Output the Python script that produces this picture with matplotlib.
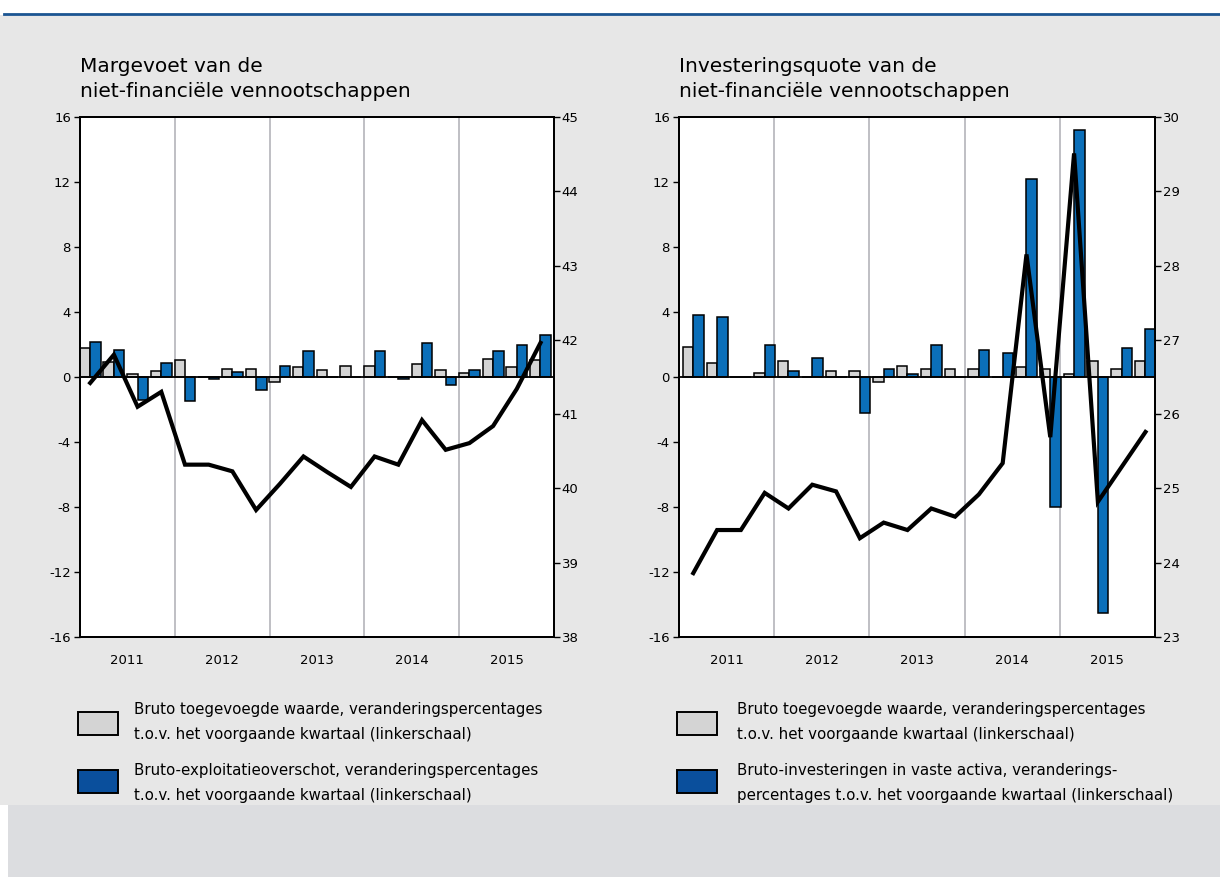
import matplotlib
matplotlib.use("Agg")
import matplotlib.pyplot as plt
from matplotlib.patches import Rectangle
from matplotlib.lines import Line2D

plt.rcParams['font.family'] = ['DejaVu Sans']
plt.rcParams['axes.unicode_minus'] = False

# ---------------------------------------------------------------- data
years = ['2011', '2012', '2013', '2014', '2015']

# Left panel: quarterly changes (%) and the margin rate (right scale)
bwt_marge = [1.79, 0.9, 0.2, 0.35, 1.03, 0.0, 0.5, 0.5, -0.33, 0.62,
             0.45, 0.66, 0.66, 0.0, 0.82, 0.41, 0.27, 1.13, 0.62, 1.07]
bruto_expl = [2.15, 1.65, -1.4, 0.86, -1.46, -0.15, 0.3, -0.82, 0.66, 1.63,
              0.0, 0.0, 1.62, -0.12, 2.12, -0.5, 0.45, 1.62, 1.97, 2.6]
margevoet = [41.42, 41.80, 41.10, 41.30, 40.32, 40.32, 40.23, 39.71, 40.06, 40.43,
             40.22, 40.02, 40.43, 40.32, 40.92, 40.52, 40.61, 40.84, 41.34, 41.96]

# Right panel: quarterly changes (%) and the investment rate (right scale)
bwt_inv = [1.85, 0.86, 0.0, 0.25, 1.0, 0.0, 0.35, 0.37, -0.3, 0.68,
           0.51, 0.47, 0.51, 0.0, 0.6, 0.47, 0.2, 1.0, 0.5, 1.0]
bruto_inv = [3.84, 3.7, 0.0, 2.0, 0.37, 1.2, 0.0, -2.2, 0.5, 0.2,
             1.97, 0.0, 1.66, 1.5, 12.2, -8.0, 15.2, -14.5, 1.8, 2.97]
inv_quote = [23.86, 24.44, 24.44, 24.94, 24.73, 25.05, 24.96, 24.33, 24.54, 24.44,
             24.73, 24.62, 24.92, 25.34, 28.15, 25.69, 29.51, 24.82, 25.29, 25.76]

titles = ['Margevoet van de\nniet-financiële vennootschappen',
          'Investeringsquote van de\nniet-financiële vennootschappen']
labels_left = ['Bruto toegevoegde waarde, veranderingspercentages\nt.o.v. het voorgaande kwartaal (linkerschaal)',
               'Bruto-exploitatieoverschot, veranderingspercentages\nt.o.v. het voorgaande kwartaal (linkerschaal)']
labels_right = ['Bruto toegevoegde waarde, veranderingspercentages\nt.o.v. het voorgaande kwartaal (linkerschaal)',
                'Bruto-investeringen in vaste activa, veranderings-\npercentages t.o.v. het voorgaande kwartaal (linkerschaal)']

# ---------------------------------------------------------------- style
W, H = 1220, 877
GREY_BAR = '#d4d4d4'
BLUE_BAR = '#0b6fb9'
BLUE_LEG = '#0a4f9c'
BG = '#e7e7e7'
GRID = '#b4b4ba'


def fx(x):
    return x / W


def fy(y):
    return 1 - y / H


fig = plt.figure(figsize=(W / 100, H / 100), dpi=100)
fig.patch.set_facecolor('white')

# page background
fig.add_artist(Rectangle((0, fy(805)), 1, fy(15) - fy(805), transform=fig.transFigure,
                         facecolor=BG, edgecolor='none', zorder=-10))
fig.add_artist(Rectangle((fx(8), 0), 1, fy(805), transform=fig.transFigure,
                         facecolor='#dcdde0', edgecolor='none', zorder=-10))
fig.add_artist(Line2D([fx(4), 1], [fy(14), fy(14)], transform=fig.transFigure,
                      color='#1b5592', lw=2.0, zorder=-5))


def panel(left_px, right_px, offset, grey, blue, line, rlim, title, labels, text_x):
    ax = fig.add_axes([fx(left_px), fy(637), fx(right_px) - fx(left_px), fy(117) - fy(637)])
    ax.set_facecolor('white')
    n = len(grey)
    xs = [i + offset for i in range(n)]
    bw = 0.44
    ax.bar(xs, grey, width=-bw, align='edge', color=GREY_BAR, edgecolor='black',
           linewidth=1.1, zorder=3)
    ax.bar(xs, blue, width=bw, align='edge', color=BLUE_BAR, edgecolor='black',
           linewidth=1.1, zorder=3)
    ax.axhline(0, color='black', lw=1.3, zorder=4)
    for k in range(1, len(years)):
        ax.axvline(4 * k, color=GRID, lw=1.2, zorder=1)
    ax.set_xlim(0, 4 * len(years))
    ax.set_ylim(-16, 16)
    ax.set_yticks(range(-16, 17, 4))
    ax.set_xticks([4 * k + 2 for k in range(len(years))])
    ax.set_xticklabels(years)
    ax.tick_params(axis='x', length=0, pad=12, labelsize=9.5)
    ax.tick_params(axis='y', direction='out', length=4, width=1, pad=2.5, labelsize=9.5)
    for s in ax.spines.values():
        s.set_linewidth(1.4)

    ax2 = ax.twinx()
    ax2.plot(xs, line, color='black', lw=3.0, solid_joinstyle='miter', zorder=5)
    ax2.set_ylim(*rlim)
    ax2.set_yticks(range(rlim[0], rlim[1] + 1))
    ax2.tick_params(axis='y', direction='out', length=4, width=1, pad=1.5, labelsize=9.5)
    for s in ax2.spines.values():
        s.set_linewidth(1.4)

    fig.text(fx(left_px), fy(57), title, ha='left', va='top', fontsize=14.5,
             linespacing=1.42)

    # legend
    for j, (lab, col) in enumerate(zip(labels, [GREY_BAR, BLUE_LEG])):
        y0 = 712 + 58 * j
        fig.add_artist(Rectangle((fx(left_px - 2), fy(y0 + 23)), fx(40), fy(y0) - fy(y0 + 23),
                                 transform=fig.transFigure, facecolor=col,
                                 edgecolor='black', linewidth=1.4))
        fig.text(fx(text_x), fy(y0 + 10 + 3 * j), lab, ha='left', va='center',
                 fontsize=10.8, linespacing=1.9)
    return ax, ax2


panel(80, 554, 0.43, bwt_marge, bruto_expl, margevoet, (38, 45), titles[0], labels_left, 134)
panel(679, 1155, 0.6, bwt_inv, bruto_inv, inv_quote, (23, 30), titles[1], labels_right, 737)

fig.savefig('out.png', dpi=100, facecolor=fig.get_facecolor())
